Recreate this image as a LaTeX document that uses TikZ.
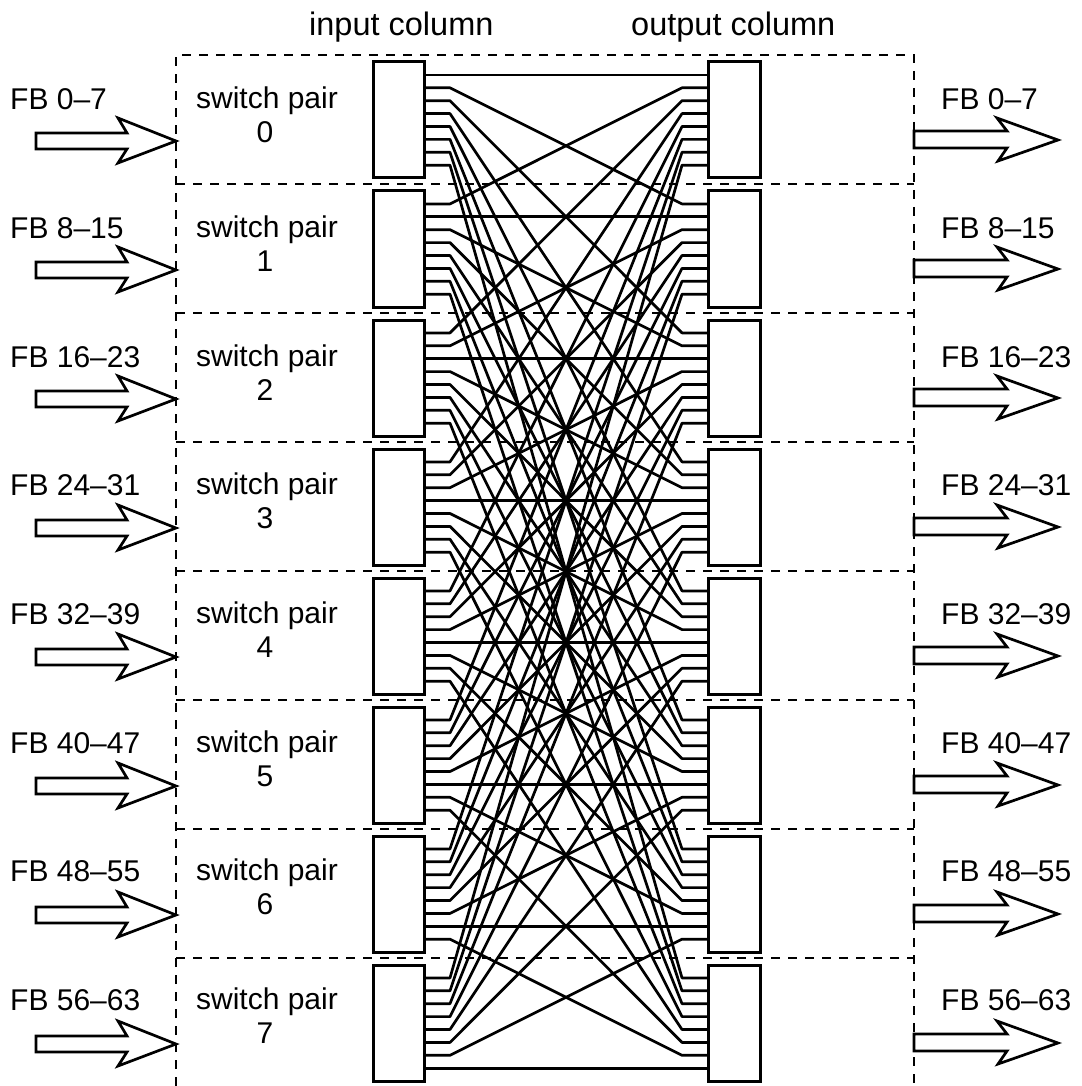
\documentclass[tikz,border=0pt]{standalone}
\usepackage{fontspec}
\setmainfont{Liberation Sans}
\usetikzlibrary{calc}
\begin{document}
\begin{tikzpicture}[x=1pt,y=-1pt,
  wire/.style={line width=2.7pt, line join=round},
  swbox/.style={draw, line width=3pt, fill=white, minimum width=51pt, minimum height=116pt, inner sep=0pt, outer sep=0pt},
  sepline/.style={dash pattern=on 9pt off 8pt, line width=2.6pt},
  lbl/.style={font=\fontsize{30}{34}\selectfont, inner sep=0pt},
  head/.style={font=\fontsize{32.5}{36}\selectfont, inner sep=0pt, anchor=base west},
  fat/.style={draw, line width=2.7pt, fill=white, line join=miter},
]
\useasboundingbox[fill=white] (0,0) rectangle (1081,1086);

% headings
\node[head] (hin) at (309,36) {input column};
\node[head] (hout) at (631,36) {output column};

% dashed frame and separators
\draw[sepline] (176,1086) -- (176,55) -- (914,55) -- (914,1086);
\foreach \k in {0,...,6} {
  \draw[sepline] (176,184+129*\k) -- (914,184+129*\k);
}

% port coordinates
\foreach \i in {0,...,7} {
  \foreach \j in {0,...,7} {
    \pgfmathsetmacro\yp{62+129*\i+12.9*(\j+1)}
    \coordinate (ip-\i-\j) at (424,\yp);
    \coordinate (is-\i-\j) at (450,\yp);
    \coordinate (os-\i-\j) at (682,\yp);
    \coordinate (op-\i-\j) at (708,\yp);
  }
}

% wires: input switch i port j -> output switch j port i
\foreach \i in {0,...,7} {
  \foreach \j in {0,...,7} {
    \draw[wire] (ip-\i-\j) -- (is-\i-\j) -- (os-\j-\i) -- (op-\j-\i);
  }
}

% switch boxes
\foreach \i in {0,...,7} {
  \node[swbox] (in\i) at (398.5,120+129*\i) {};
  \node[swbox, minimum width=52pt] (out\i) at (734,120+129*\i) {};
}

% labels and arrows
\foreach \i in {0,...,7} {
  \pgfmathtruncatemacro\lo{8*\i}
  \pgfmathtruncatemacro\hi{8*\i+7}
  \pgfmathsetmacro\yt{110+128.6*\i}
  \pgfmathsetmacro\ys{109+128.6*\i}
  \pgfmathsetmacro\yn{143+128.6*\i}
  \pgfmathsetmacro\ya{141+129*\i}
  \pgfmathsetmacro\yb{140+129*\i}
  \node[lbl, anchor=base west] (fbl\i) at (10,\yt) {FB \lo\textendash\hi};
  \node[lbl, anchor=base west] (fbr\i) at (941,\yt) {FB \lo\textendash\hi};
  \node[lbl, anchor=base] (sp\i) at (267,\ys) {switch pair};
  \node[lbl, anchor=base] (sn\i) at (265,\yn) {\i};
  \draw[fat] (36,\ya-8) -- (127,\ya-8) -- (118,\ya-23) -- (176,\ya) -- (118,\ya+22) -- (127,\ya+8) -- (36,\ya+8) -- cycle;
  \draw[fat] (914,\yb-9) -- (1007,\yb-9) -- (997,\yb-22) -- (1058,\yb) -- (998,\yb+21) -- (1007,\yb+8) -- (914,\yb+8) -- cycle;
}
\end{tikzpicture}
\end{document}
